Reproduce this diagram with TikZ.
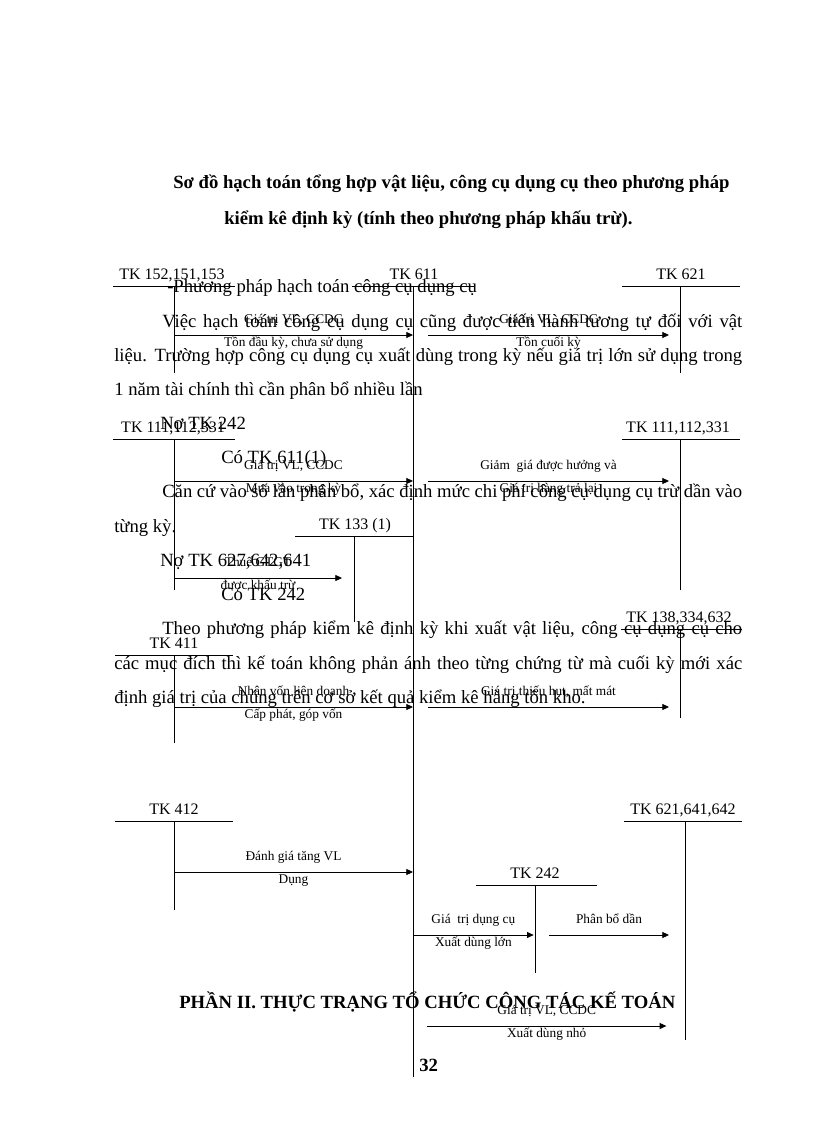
\documentclass[tikz,border=0pt]{standalone}
\usepackage{fontspec}
\setmainfont{Liberation Serif}
\usetikzlibrary{arrows.meta}

\begin{document}
\begin{tikzpicture}[x=0.75pt,y=-0.75pt,
  body/.style={font=\fontsize{14}{17}\selectfont, anchor=base west, inner sep=0pt},
  heading/.style={font=\bfseries\fontsize{14}{17}\selectfont, anchor=base west, inner sep=0pt},
  tk/.style={font=\fontsize{12}{14}\selectfont, anchor=base, inner sep=0pt},
  tline/.style={line width=0.6pt},
  flow/.style={line width=0.6pt, -{Triangle[length=5pt,width=4.5pt]}},
  lblup/.style={font=\fontsize{10}{12}\selectfont, text height=7pt, text depth=2pt, inner sep=0pt, above=6.5pt},
  lbldown/.style={font=\fontsize{10}{12}\selectfont, text height=7pt, text depth=2pt, inner sep=0pt, below=1.5pt}]
\useasboundingbox (0,0) rectangle (816,1123);

% Text of the page
\node[heading](title1) at (173,189){Sơ đồ hạch toán tổng hợp vật liệu, công cụ dụng cụ theo phương pháp};
\node[heading](title2) at (224,224){kiểm kê định kỳ (tính theo phương pháp khấu trừ).};
\node[body](p1) at (167,292){-Phương pháp hạch toán công cụ dụng cụ};
\node[body](p2) at (162,327){\makebox[435pt][s]{Việc hạch toán công cụ dụng cụ cũng được tiến hành tương tự đối với vật}};
\node[body](p3) at (114,361){\makebox[471pt][s]{liệu. Trường hợp công cụ dụng cụ xuất dùng trong kỳ nếu giá trị lớn sử dụng trong}};
\node[body](p4) at (114,395){1 năm tài chính thì cần phân bổ nhiều lần};
\node[body](p5) at (160,429){Nợ TK 242};
\node[body](p6) at (221,463){Có TK 611(1)};
\node[body](p7) at (162,497){\makebox[435pt][s]{Căn cứ vào số lần phân bổ, xác định mức chi phí công cụ dụng cụ trừ dần vào}};
\node[body](p8) at (114,532){từng kỳ.};
\node[body](p9) at (160,566){Nợ TK 627,642,641};
\node[body](p10) at (221,600){Có TK 242};
\node[body](p11) at (162,634){\makebox[435pt][s]{Theo phương pháp kiểm kê định kỳ khi xuất vật liệu, công cụ dụng cụ cho}};
\node[body](p12) at (114,669){\makebox[471pt][s]{các mục đích thì kế toán không phản ánh theo từng chứng từ mà cuối kỳ mới xác}};
\node[body](p13) at (114,703){định giá trị của chúng trên cơ sở kết quả kiểm kê hàng tồn kho.};
\node[heading](part2) at (179,1008){PHẦN II. THỰC TRẠNG TỔ CHỨC CÔNG TÁC KẾ TOÁN};
\node[heading](pageno) at (419,1071){32};

% Accounts
\node[tk](tk152) at (172,279){TK 152,151,153};
\coordinate (tk152t) at (174,286); \coordinate (tk152b) at (174,373);
\draw[tline] ([xshift=-45.75pt]tk152t) -- ([xshift=45.75pt]tk152t);
\draw[tline] (tk152t) -- (tk152b);

\node[tk](tk611) at (414,279){TK 611};
\coordinate (tk611t) at (413,286); \coordinate (tk611b) at (413,1077);
\draw[tline] ([xshift=-45.75pt]tk611t) -- ([xshift=46.5pt]tk611t);
\draw[tline] (tk611t) -- (tk611b);

\node[tk](tk621) at (681,279){TK 621};
\coordinate (tk621t) at (680,286); \coordinate (tk621b) at (680,373);
\draw[tline] ([xshift=-43.5pt]tk621t) -- ([xshift=45pt]tk621t);
\draw[tline] (tk621t) -- (tk621b);

\node[tk](tk111) at (173,432){TK 111,112,331};
\coordinate (tk111t) at (174,439); \coordinate (tk111b) at (174,590);
\draw[tline] ([xshift=-45.75pt]tk111t) -- ([xshift=45.75pt]tk111t);
\draw[tline] (tk111t) -- (tk111b);

\node[tk](tk111r) at (678,432){TK 111,112,331};
\coordinate (tk111rt) at (680,439); \coordinate (tk111rb) at (680,590);
\draw[tline] ([xshift=-43.5pt]tk111rt) -- ([xshift=45pt]tk111rt);
\draw[tline] (tk111rt) -- (tk111rb);

\node[tk](tk133) at (355,529){TK 133 (1)};
\coordinate (tk133t) at (354,536); \coordinate (tk133b) at (354,622);
\draw[tline] ([xshift=-44.25pt]tk133t) -- (tk611t |- tk133t);
\draw[tline] (tk133t) -- (tk133b);

\node[tk](tk138) at (679,622){TK 138,334,632};
\coordinate (tk138t) at (680,629); \coordinate (tk138b) at (680,718);
\draw[tline] ([xshift=-44.25pt]tk138t) -- ([xshift=46.5pt]tk138t);
\draw[tline] (tk138t) -- (tk138b);

\node[tk](tk411) at (174,648){TK 411};
\coordinate (tk411t) at (174,655); \coordinate (tk411b) at (174,743);
\draw[tline] ([xshift=-44.25pt]tk411t) -- ([xshift=44.25pt]tk411t);
\draw[tline] (tk411t) -- (tk411b);

\node[tk](tk412) at (174,814){TK 412};
\coordinate (tk412t) at (174,821); \coordinate (tk412b) at (174,910);
\draw[tline] ([xshift=-44.25pt]tk412t) -- ([xshift=44.25pt]tk412t);
\draw[tline] (tk412t) -- (tk412b);

\node[tk](tk621b) at (683,814){TK 621,641,642};
\coordinate (tk621bt) at (685,821); \coordinate (tk621bb) at (685,1040);
\draw[tline] ([xshift=-45.75pt]tk621bt) -- ([xshift=42.75pt]tk621bt);
\draw[tline] (tk621bt) -- (tk621bb);

\node[tk](tk242) at (535,878){TK 242};
\coordinate (tk242t) at (535,885); \coordinate (tk242b) at (535,973);
\draw[tline] ([xshift=-44.25pt]tk242t) -- ([xshift=46.5pt]tk242t);
\draw[tline] (tk242t) -- (tk242b);

% Rows of the arrows
\coordinate (row1) at (0,335);
\coordinate (row2) at (0,481);
\coordinate (row3) at (0,578);
\coordinate (row4) at (0,707);
\coordinate (row5) at (0,872);
\coordinate (row6) at (0,935);
\coordinate (row7) at (0,1026);

% Arrows
\draw[flow] (tk152t |- row1) -- (tk611t |- row1)
  node[midway, lblup]{Giá trị VL, CCDC} node[midway, lbldown]{Tồn đầu kỳ, chưa sử dụng};
\draw[flow] ([xshift=11.25pt]tk611t |- row1) -- ([xshift=-8.25pt]tk621t |- row1)
  node[midway, lblup]{Giá trị VL, CCDC} node[midway, lbldown]{Tồn cuối kỳ};
\draw[flow] (tk111t |- row2) -- (tk611t |- row2)
  node[midway, lblup]{Giá trị VL, CCDC} node[midway, lbldown]{Mua vào trong kỳ};
\draw[flow] ([xshift=11.25pt]tk611t |- row2) -- ([xshift=-8.25pt]tk111rt |- row2)
  node[midway, lblup]{Giảm\ \ giá được hưởng và} node[midway, lbldown]{Giá trị hàng trả lại};
\draw[flow] (tk111t |- row3) -- ([xshift=-9pt]tk133t |- row3)
  node[midway, lblup]{Thuế GTGT} node[midway, lbldown]{được khấu trừ};
\draw[flow] (tk411t |- row4) -- (tk611t |- row4)
  node[midway, lblup]{Nhận vốn liên doanh} node[midway, lbldown]{Cấp phát, góp vốn};
\draw[flow] ([xshift=11.25pt]tk611t |- row4) -- ([xshift=-8.25pt]tk138t |- row4)
  node[midway, lblup]{Giá trị thiếu hụt, mất mát};
\draw[flow] (tk412t |- row5) -- (tk611t |- row5)
  node[midway, lblup]{Đánh giá tăng VL} node[midway, lbldown]{Dụng};
\draw[flow] (tk611t |- row6) -- ([xshift=-1pt]tk242t |- row6)
  node[midway, lblup]{Giá\ \ trị dụng cụ} node[midway, lbldown]{Xuất dùng lớn};
\draw[flow] ([xshift=10.5pt]tk242t |- row6) -- ([xshift=-12pt]tk621bt |- row6)
  node[midway, lblup]{Phân bổ dần};
\draw[flow] ([xshift=10.5pt]tk611t |- row7) -- ([xshift=-14pt]tk621bt |- row7)
  node[midway, lblup]{Giá trị VL, CCDC} node[midway, lbldown]{Xuất dùng nhỏ};

\end{tikzpicture}
\end{document}
